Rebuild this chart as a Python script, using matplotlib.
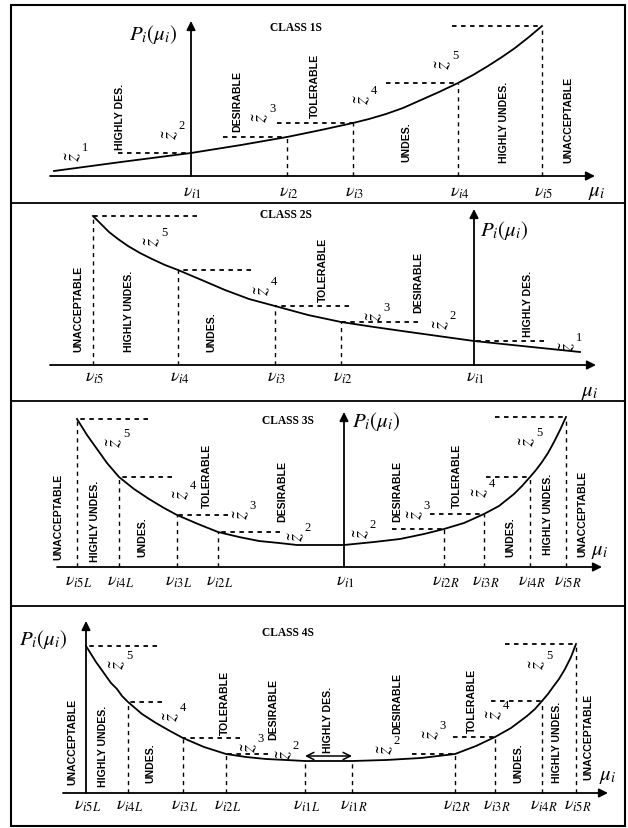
import matplotlib.pyplot as plt
from matplotlib.lines import Line2D
from matplotlib.patches import Rectangle

plt.rcParams['mathtext.fontset'] = 'stix'
plt.rcParams['font.family'] = ['Liberation Sans', 'DejaVu Sans']

W, H = 628, 829

# ---------------- data ----------------
# class 1S : monotonically increasing
c1_names = ['i1', 'i2', 'i3', 'i4', 'i5']
c1_nu = [0, 96, 162, 267, 351]
c1_p = [23, 39, 53, 93, 150]
c1_dot_from = [-73, 32, 86, 195, 261]
c1_cx = [-137, -70, 0, 50, 96, 130, 162, 178, 195, 212, 230, 248, 267, 282, 297,
         311, 324, 338, 351]
c1_cy = [5, 14, 23, 31, 39, 46, 53, 57, 62, 68, 76, 84, 93, 101, 110,
         119, 128, 139, 150]
c1_bands = ['HIGHLY DES.', 'DESIRABLE', 'TOLERABLE', 'UNDES.', 'HIGHLY UNDES.', 'UNACCEPTABLE']
c1_z = [1, 2, 3, 4, 5]

# class 2S : monotonically decreasing
c2_names = ['i5', 'i4', 'i3', 'i2', 'i1']
c2_nu = [-381, -296, -199, -133, 0]
c2_p = [149, 95, 59, 43, 24]
c2_dot_from = [-277, -223, -125, -56, 70]
c2_cx = [-381, -373, -365, -356, -346, -334, -322, -309, -296, -270, -249, -225, -199,
         -166, -133, -100, -72, -36, 0, 48, 106]
c2_cy = [149, 141, 133, 126, 119, 112, 106, 100, 95, 84, 75, 66, 59,
         50, 43, 38, 34, 29, 24, 19, 13]
c2_bands = ['UNACCEPTABLE', 'HIGHLY UNDES.', 'UNDES.', 'TOLERABLE', 'DESIRABLE', 'HIGHLY DES.']
c2_z = [5, 4, 3, 2, 1]

# class 3S : convex, single best point
c3_names = ['i5L', 'i4L', 'i3L', 'i2L', 'i1', 'i2R', 'i3R', 'i4R', 'i5R']
c3_nu = [-267, -225, -167, -126, 0, 100, 140, 186, 222]
c3_p = [148, 90, 52, 35, 22, 38, 53, 90, 150]
c3_dot_from = [-196, -172, -116, -64, None, 48, 86, 142, 151]
c3_cx = [-267, -262, -257, -252, -247, -242, -237, -231, -225, -210, -195, -180, -167,
         -146, -126, -105, -85, -65, -47, -20, 0, 30, 56, 80, 100, 120, 140, 155, 170,
         178, 186, 192, 198, 204, 210, 216, 222]
c3_cy = [148, 140, 132, 125, 118, 111, 104, 97, 90, 78, 68, 59, 52,
         43, 35, 30, 26, 24, 22, 22, 22, 25, 28, 33, 38, 44, 53, 61, 73,
         81, 90, 97, 105, 114, 125, 137, 150]
c3_bands = ['UNACCEPTABLE', 'HIGHLY UNDES.', 'UNDES.', 'TOLERABLE', 'DESIRABLE',
            'DESIRABLE', 'TOLERABLE', 'UNDES.', 'HIGHLY UNDES.', 'UNACCEPTABLE']
c3_z = [5, 4, 3, 2, 2, 3, 4, 5]

# class 4S : convex, flat best range
c4_names = ['i5L', 'i4L', 'i3L', 'i2L', 'i1L', 'i1R', 'i2R', 'i3R', 'i4R', 'i5R']
c4_nu = [0, 42, 97, 140, 219, 266, 369, 409, 456, 490]
c4_p = [147, 91, 55, 39, 32, 32, 39, 56, 92, 149]
c4_dot_from = [71, 76, 154, 182, None, None, 326, 367, 405, 419]
c4_cx = [0, 5, 10, 15, 20, 25, 31, 36, 42, 56, 70, 84, 97, 118, 140, 160, 180, 200, 219,
         266, 300, 335, 369, 390, 409, 425, 441, 449, 456, 462, 467, 473, 479, 485, 490]
c4_cy = [147, 139, 131, 124, 117, 110, 104, 97, 91, 79, 70, 62, 55, 46, 39, 36, 34, 33, 32,
         32, 33, 35, 39, 47, 56, 65, 77, 84, 92, 99, 106, 114, 124, 136, 149]
c4_bands = ['UNACCEPTABLE', 'HIGHLY UNDES.', 'UNDES.', 'TOLERABLE', 'DESIRABLE', 'HIGHLY DES.',
            'DESIRABLE', 'TOLERABLE', 'UNDES.', 'HIGHLY UNDES.', 'UNACCEPTABLE']
c4_z = [5, 4, 3, 2, 2, 3, 4, 5]

fig = plt.figure(figsize=(W / 100, H / 100), dpi=100)


def panel_axes(x0, y0, top, bot):
    # 1 data unit = 1 pixel, origin where the two axes cross
    ax = fig.add_axes([0, 1 - bot / H, 1, (bot - top) / H])
    ax.set_xlim(-x0, W - x0)
    ax.set_ylim(y0 - bot, y0 - top)
    ax.axis('off')
    return ax


def arrow(ax, x1, y1, x2, y2, style='-|>', lw=1.3):
    ax.annotate('', xy=(x2, y2), xytext=(x1, y1),
                arrowprops=dict(arrowstyle=style, color='black', lw=lw,
                                shrinkA=0, shrinkB=0, mutation_scale=13))


def draw(ax, names, nu, p, dot_from, cx, cy, bands, band_pos, z_idx, z_pos,
         xrange_, ytop, title, title_xy, plab_xy, plab_ha, mu_xy, nu_dy):
    arrow(ax, xrange_[0], 0, xrange_[1], 0)
    arrow(ax, 0, 0, 0, ytop)
    ax.plot(cx, cy, color='black', lw=1.3)
    for x, y, x0 in zip(nu, p, dot_from):
        if x != 0:
            ax.plot([x, x], [0, y], color='black', lw=1.0, ls=(0, (3, 3)))
        if x0 is not None:
            ax.plot([x0, x], [y, y], color='black', lw=1.3, ls=(0, (2.5, 2.5)))
    for x, nm in zip(nu, names):
        ax.text(x + 2, nu_dy, r'$\nu_{%s}$' % nm, fontsize=13,
                ha='center', va='center')
    for s, (x, y) in zip(bands, band_pos):
        ax.text(x, y, s, rotation=90, ha='center', va='bottom',
                fontsize=7.6, fontweight='bold')
    for k, (x, y) in zip(z_idx, z_pos):
        ax.text(x, y, r'$\tilde{z}$', rotation=90, fontsize=15,
                ha='center', va='center')
        ax.text(x + 11, y + 9, str(k), fontsize=9, family='Liberation Serif',
                ha='center', va='center')
    ax.text(title_xy[0], title_xy[1], title, fontsize=8.3, fontweight='bold',
            family='Liberation Serif', ha='center', va='center')
    ax.text(plab_xy[0], plab_xy[1], r'$P_i(\mu_i)$', fontsize=15,
            ha=plab_ha, va='center')
    ax.text(mu_xy[0], mu_xy[1], r'$\mu_i$', fontsize=15, ha='center', va='center')


ax1 = panel_axes(191, 177, 6, 204)
draw(ax1, c1_names, c1_nu, c1_p, c1_dot_from, c1_cx, c1_cy, c1_bands,
     [(-71, 27), (46, 45), (124, 59), (215, 15), (313, 14), (377, 14)],
     c1_z, [(-117, 20), (-20, 42), (70, 59), (172, 77), (253, 112)],
     (-141, 404), 155, 'CLASS 1S', (105, 149), (-14, 142), 'right', (406, -15), -15)

ax2 = panel_axes(474, 366, 204, 402)
draw(ax2, c2_names, c2_nu, c2_p, c2_dot_from, c2_cx, c2_cy, c2_bands,
     [(-396, 14), (-345, 14), (-263, 14), (-151, 64), (-56, 53), (54, 29)],
     c2_z, [(-321, 124), (-211, 75), (-99, 49), (-32, 41), (94, 19)],
     (-424, 122), 156, 'CLASS 2S', (-188, 151), (6, 136), 'left', (116, -26), -11)

ax3 = panel_axes(344, 568, 402, 607)
draw(ax3, c3_names, c3_nu, c3_p, c3_dot_from, c3_cx, c3_cy, c3_bands,
     [(-286, 8), (-249, 6), (-202, 11), (-137, 60), (-62, 46),
      (53, 46), (113, 60), (166, 11), (204, 13), (238, 11)],
     c3_z, [(-229, 125), (-162, 73), (-102, 53), (-47, 31),
            (18, 34), (72, 53), (137, 75), (184, 126)],
     (-287, 258), 155, 'CLASS 3S', (-56, 147), (8, 146), 'left', (256, 16), -14)

ax4 = panel_axes(86, 794, 607, 827)
draw(ax4, c4_names, c4_nu, c4_p, c4_dot_from, c4_cx, c4_cy, c4_bands,
     [(-14, 9), (17, 7), (64, 11), (139, 59), (187, 54), (242, 41),
      (311, 60), (386, 61), (432, 11), (471, 11), (502, 14)],
     c4_z, [(32, 129), (86, 77), (164, 46), (199, 39),
            (300, 44), (346, 59), (409, 79), (452, 129)],
     (-23, 522), 172, 'CLASS 4S', (202, 161), (-43, 154), 'center', (522, 17), -12)
# best range of class 4S
arrow(ax4, c4_nu[4], 37, c4_nu[5], 37, style='<->', lw=1.1)

# outer frame and separators
fig.add_artist(Rectangle((11 / W, 1 - 827 / H), (625 - 11) / W, (827 - 6) / H,
                         transform=fig.transFigure, fill=False, lw=1.5, color='black'))
for yb in [204, 402, 607]:
    fig.add_artist(Line2D([11 / W, 625 / W], [1 - yb / H, 1 - yb / H],
                          transform=fig.transFigure, lw=1.3, color='black'))

fig.savefig('out.png', dpi=100)
